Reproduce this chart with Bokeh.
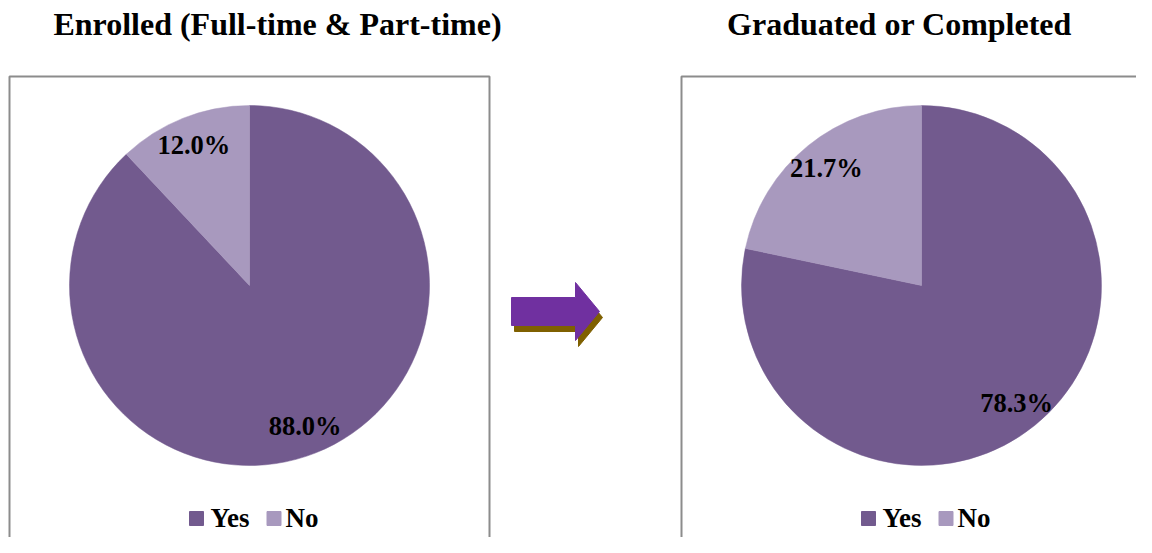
import math
from bokeh.plotting import figure
from bokeh.models import Range1d
from bokeh.core.properties import value
from bokeh.embed import file_html
from bokeh.resources import INLINE

# ---- data ----
titles = ["Enrolled (Full-time & Part-time)", "Graduated or Completed"]
categories = ["Yes", "No"]
enrolled = [88.0, 12.0]
graduated = [78.3, 21.7]
colors = ["#725A8E", "#A899BE"]

FONT = value("Liberation Serif")

W, H = 1136, 537
p = figure(width=W, height=H, output_backend="svg", toolbar_location=None,
           x_range=Range1d(0, W), y_range=Range1d(-H, 0),
           min_border=0, outline_line_color=None)
p.axis.visible = False
p.grid.visible = False
p.background_fill_color = "white"
p.border_fill_color = "white"

# panel layout (pixels; y negated)
panels = [
    dict(title_x=277, cx=249, box_l=9, box_r=489, vals=enrolled, title=titles[0]),
    dict(title_x=899, cx=921, box_l=681, box_r=1165, vals=graduated, title=titles[1]),
]
cy = -285
R = 180
LABEL_R = 151

for pan in panels:
    cx = pan["cx"]
    # box
    p.quad(left=[pan["box_l"]], right=[pan["box_r"]], top=[-76], bottom=[-600],
           fill_color=None, line_color="#8C8C8C", line_width=2)
    # title
    p.text(x=[pan["title_x"]], y=[-23], text=[pan["title"]], text_font=FONT,
           text_font_style="bold", text_font_size="32px", text_color="black",
           text_align="center", text_baseline="middle")
    # pie: start at top, go clockwise
    vals = pan["vals"]
    tot = sum(vals)
    start = math.pi / 2
    for v, c in zip(vals, colors):
        sweep = 2 * math.pi * v / tot
        end = start - sweep
        p.wedge(x=[cx], y=[cy], radius=R, start_angle=end, end_angle=start,
                direction="anticlock", fill_color=c, line_color=c, line_width=0.5)
        mid = start - sweep / 2
        p.text(x=[cx + LABEL_R * math.cos(mid)], y=[cy + LABEL_R * math.sin(mid)],
               text=[f"{v:.1f}%"], text_font=FONT, text_font_style="bold",
               text_font_size="26.5px", text_color="black",
               text_align="center", text_baseline="middle")
        start = end
    # legend
    ly = -518
    offs = [(-53, -39), (24.5, 36)]
    for (sq, tx), cat, c in zip(offs, categories, colors):
        p.scatter(x=[cx + sq], y=[ly], marker="square", size=14,
                  fill_color=c, line_color=c)
        p.text(x=[cx + tx], y=[ly + 1], text=[cat], text_font=FONT,
               text_font_style="bold", text_font_size="27px", text_color="black",
               text_align="left", text_baseline="middle")

# arrow between panels (shadow then arrow)
ax = [511, 575, 575, 599, 575, 575, 511]
ay = [297, 297, 282, 311, 340, 325, 325]
p.patch(x=[v + 3 for v in ax], y=[-(v + 6) for v in ay],
        fill_color="#7F6000", line_color="#7F6000")
p.patch(x=ax, y=[-v for v in ay], fill_color="#7030A0", line_color="#7030A0")

open("out.html", "w").write(file_html(p, INLINE))
